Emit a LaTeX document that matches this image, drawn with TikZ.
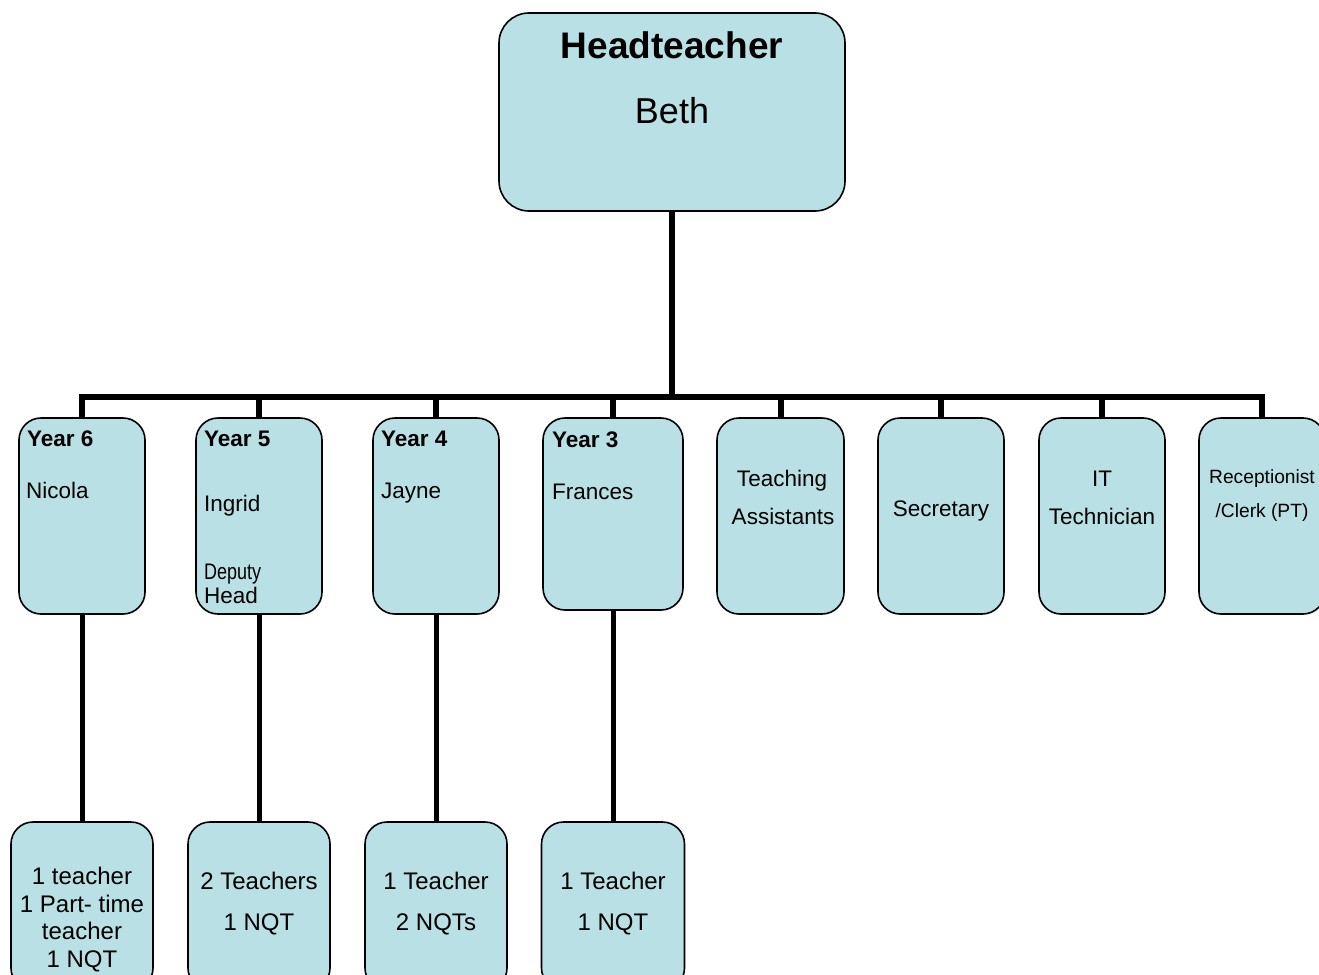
\documentclass[tikz,border=0pt]{standalone}
\usepackage{fontspec}
\setmainfont{Liberation Sans}
\usetikzlibrary{backgrounds}
\definecolor{boxfill}{RGB}{185,224,228}
\begin{document}
\begin{tikzpicture}[x=1pt,y=-1pt,
  box/.style={draw=black, line width=1.6pt, fill=boxfill, rounded corners=22pt, inner sep=0pt},
  conn/.style={line width=6pt, draw=black, line cap=rect},
  lbl/.style={inner sep=0pt, font=\fontsize{22.5}{26}\selectfont},
  lblsm/.style={inner sep=0pt, font=\fontsize{19.2}{23}\selectfont},
  lblb/.style={inner sep=0pt, font=\fontsize{24}{28}\selectfont}]
\clip (0,0) rectangle (1319,974);
% top
\node[box, rounded corners=30pt, minimum width=346pt, minimum height=198pt] (head) at (672,112) {};
% row 2
\node[box, minimum width=126pt, minimum height=196pt] (y6) at (82,516) {};
\node[box, minimum width=126pt, minimum height=196pt] (y5) at (259,516) {};
\node[box, minimum width=126pt, minimum height=196pt] (y4) at (436,516) {};
\node[box, minimum width=140pt, minimum height=192pt] (y3) at (613,514) {};
\node[box, minimum width=127pt, minimum height=196pt] (ta) at (780.5,516) {};
\node[box, minimum width=126pt, minimum height=196pt] (sec) at (941,516) {};
\node[box, minimum width=126pt, minimum height=196pt] (it) at (1102,516) {};
\node[box, minimum width=126pt, minimum height=196pt] (rc) at (1262,516) {};
% row 3
\node[box, minimum width=142pt, minimum height=168pt] (t6) at (82,906) {};
\node[box, minimum width=142pt, minimum height=168pt] (t5) at (259,906) {};
\node[box, minimum width=142pt, minimum height=168pt] (t4) at (436,906) {};
\node[box, minimum width=143pt, minimum height=168pt] (t3) at (613,906) {};
\coordinate (bar) at (672,397);
\begin{pgfonlayer}{background}
\draw[conn] (head.south) -- (bar);
\draw[conn] (y6.north |- bar) -- (rc.north |- bar);
\foreach \n in {y6,y5,y4,y3,ta,sec,it,rc}{
  \draw[conn] (\n.north) -- (\n.north |- bar);
}
\draw[conn, line width=5pt] (y6.south) -- (t6.north);
\draw[conn, line width=5pt] (y5.south) -- (t5.north);
\draw[conn, line width=5pt] (y4.south) -- (t4.north);
\draw[conn, line width=5pt] (y3.south) -- (t3.north);
\end{pgfonlayer}
% texts
\node[inner sep=0pt, anchor=base, font=\fontsize{37}{42}\selectfont\bfseries] (headA) at (672,59) {Headteacher};
\node[inner sep=0pt, anchor=base, font=\fontsize{36}{42}\selectfont] (headB) at (672,123) {Beth};
\node[lbl, anchor=base west] (y6a) at (27,446) {\textbf{Year 6}};
\node[lbl, anchor=base west] (y6b) at (26,498) {Nicola};
\node[lbl, anchor=base west] (y5a) at (204,446) {\textbf{Year 5}};
\node[lbl, anchor=base west] (y5b) at (204,511) {Ingrid};
\node[lbl, anchor=base west] (y5c) at (204,579) {\scalebox{0.8}[1]{Deputy}};
\node[lbl, anchor=base west] (y5d) at (204,603) {Head};
\node[lbl, anchor=base west] (y4a) at (381,446) {\textbf{Year 4}};
\node[lbl, anchor=base west] (y4b) at (381,498) {Jayne};
\node[lbl, anchor=base west] (y3a) at (552,447) {\textbf{Year 3}};
\node[lbl, anchor=base west] (y3b) at (552,499) {Frances};
\node[lbl, anchor=base] (taa) at (782,486) {Teaching};
\node[lbl, anchor=base] (tab) at (783,524) {Assistants};
\node[lbl, anchor=base] (seca) at (941,516) {Secretary};
\node[lbl, anchor=base] (ita) at (1102,486) {IT};
\node[lbl, anchor=base] (itb) at (1102,524) {Technician};
\node[lblsm, anchor=base] (rca) at (1262,483) {Receptionist};
\node[lblsm, anchor=base] (rcb) at (1262,517) {/Clerk (PT)};
\node[lblb, anchor=base] (t6a) at (82,884) {1 teacher};
\node[lblb, anchor=base] (t6b) at (82,912) {1 Part- time};
\node[lblb, anchor=base] (t6c) at (82,939) {teacher};
\node[lblb, anchor=base] (t6d) at (82,967) {1 NQT};
\node[lblb, anchor=base] (t5a) at (259,889) {2 Teachers};
\node[lblb, anchor=base] (t5b) at (259,930) {1 NQT};
\node[lblb, anchor=base] (t4a) at (436,889) {1 Teacher};
\node[lblb, anchor=base] (t4b) at (436,930) {2 NQTs};
\node[lblb, anchor=base] (t3a) at (613,889) {1 Teacher};
\node[lblb, anchor=base] (t3b) at (613,930) {1 NQT};
\end{tikzpicture}
\end{document}
